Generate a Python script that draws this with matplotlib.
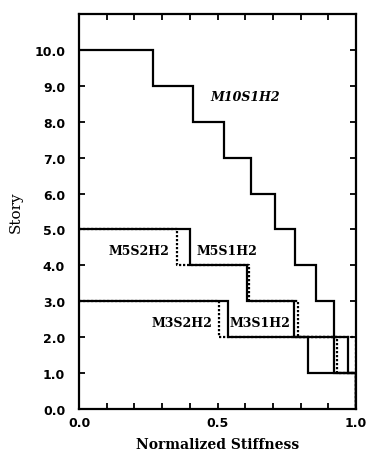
import matplotlib
matplotlib.use("Agg")
import matplotlib.pyplot as plt
import numpy as np

# Stiffness per story, listed from the top story down to story 1
m10s1h2 = [0.267, 0.412, 0.523, 0.620, 0.707, 0.779, 0.855, 0.919, 0.972, 1.0]
m5s1h2 = [0.402, 0.607, 0.776, 0.919, 1.0]
m5s2h2 = [0.354, 0.612, 0.792, 0.930, 1.0]
m3s1h2 = [0.537, 0.826, 1.0]
m3s2h2 = [0.505, 1.0, 1.0]

series = [
    ("M10S1H2", m10s1h2, "-"),
    ("M5S1H2", m5s1h2, "-"),
    ("M5S2H2", m5s2h2, ":"),
    ("M3S1H2", m3s1h2, "-"),
    ("M3S2H2", m3s2h2, ":"),
]

labels = ["M10S1H2", "M5S2H2", "M5S1H2", "M3S2H2", "M3S1H2"]
label_x = [0.60, 0.218, 0.535, 0.372, 0.653]
label_y = [8.7, 4.4, 4.4, 2.42, 2.42]
label_style = ["italic", "normal", "normal", "normal", "normal"]


def step_path(vals):
    n = len(vals)
    xs, ys = [0.0], [float(n)]
    for i, v in enumerate(vals):
        top = n - i
        xs += [v, v]
        ys += [top, top - 1]
    return xs, ys


fig = plt.figure(figsize=(3.66, 4.56), dpi=100)
ax = fig.add_axes([0.216, 0.101, 0.757, 0.866])

for name, vals, ls in series:
    xs, ys = step_path(vals)
    if ls == ":":
        ax.plot(xs, ys, color="black", lw=1.6, ls=ls, dashes=(1, 0.8), zorder=2)
    else:
        ax.plot(xs, ys, color="black", lw=1.6, ls=ls, solid_joinstyle="miter", zorder=3)

for t, x, y, st in zip(labels, label_x, label_y, label_style):
    ax.text(x, y, t, ha="center", va="center", fontsize=9, family="DejaVu Serif",
            weight="bold", style=st)

ax.set_xlim(0, 1.0)
ax.set_ylim(0, 11)
xt = np.arange(0, 1.01, 0.1)
ax.set_xticks(xt)
ax.set_xticklabels(["0.0" if abs(v) < 1e-9 else ("0.5" if abs(v - 0.5) < 1e-9 else ("1.0" if abs(v - 1) < 1e-9 else ""))
                    for v in xt])
ax.set_yticks(np.arange(0, 11, 1))
ax.set_yticklabels(["%.1f" % v for v in np.arange(0, 11, 1)])
ax.tick_params(direction="in", length=4, width=1.3, top=True, right=True,
               labelsize=9)
ax.tick_params(axis="y", pad=10)
ax.tick_params(axis="x", pad=5)
for lab in ax.get_xticklabels() + ax.get_yticklabels():
    lab.set_fontweight("bold")
for s in ax.spines.values():
    s.set_linewidth(1.6)

ax.set_xlabel("Normalized Stiffness", family="DejaVu Serif", weight="bold", fontsize=10, labelpad=6)
ax.set_ylabel("Story", family="DejaVu Serif", fontsize=11, labelpad=8)

fig.savefig("out.png", dpi=100)
